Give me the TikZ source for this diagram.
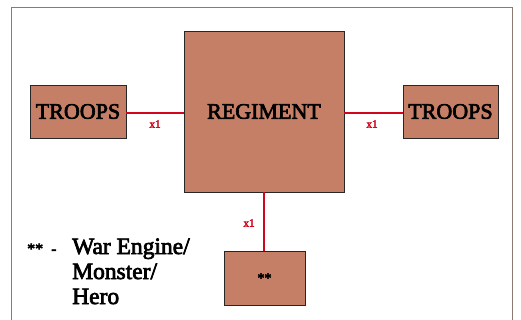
\documentclass[tikz,border=0pt]{standalone}
\usepackage{fontspec}
\setmainfont{Liberation Serif}
\newfontfamily\semib[FakeBold=3]{Liberation Serif}
\definecolor{boxfill}{HTML}{C57F66}
\definecolor{linkred}{HTML}{D0061E}
\definecolor{framec}{HTML}{8A7A72}
\begin{document}
\begin{tikzpicture}[x=1pt,y=-1pt,
  unitbox/.style={draw=black!85,line width=0.9pt,fill=boxfill,inner sep=0pt,font=\semib\fontsize{22}{22}\selectfont},
  link/.style={draw=linkred,line width=2pt},
  mult/.style={text=linkred,font=\semib\fontsize{11}{11}\selectfont,inner sep=0pt},
  legend/.style={font=\semib\fontsize{23.5}{23.5}\selectfont,inner sep=0pt,anchor=base west}]
\useasboundingbox (0,0) rectangle (521,320);
\draw[framec,line width=0.8pt] (11,7) -- (512,7) -- (512,330) (11,330) -- (11,7);
\node[unitbox,minimum width=160pt,minimum height=161pt] (reg) at (264,111.5) {REGIMENT};
\node[unitbox,minimum width=96pt,minimum height=53pt] (tl) at (78,111.5) {TROOPS};
\node[unitbox,minimum width=95pt,minimum height=53pt] (tr) at (450.5,111.5) {TROOPS};
\node[unitbox,minimum width=81pt,minimum height=54pt,font=\semib\fontsize{14}{14}\selectfont] (ss) at (264.5,278) {**};
\draw[link] (tl.east |- 0,113) -- (reg.west |- 0,113);
\draw[link] (reg.east |- 0,113) -- (tr.west |- 0,113);
\draw[link] (reg.south) -- (ss.north -| reg.south);
\node[mult] (m1) at (155,124) {x1};
\node[mult] (m2) at (372,124) {x1};
\node[mult] (m3) at (249,223) {x1};
\node[legend,font=\semib\fontsize{16}{16}\selectfont] (lg0) at (27,254) {**\hspace{8pt}-};
\node[legend] (lg1) at (72,254) {War Engine/};
\node[legend] (lg2) at (72,279) {Monster/};
\node[legend] (lg3) at (72,304) {Hero};
\end{tikzpicture}
\end{document}
